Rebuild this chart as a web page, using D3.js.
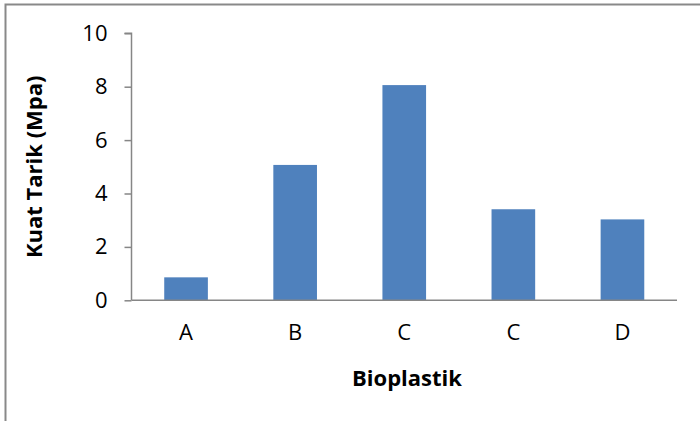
<!DOCTYPE html>
<html><head><meta charset="utf-8">
<script src="https://cdn.jsdelivr.net/npm/d3@7/dist/d3.min.js"></script>
<style>body{margin:0;background:#fff}svg{display:block}</style>
</head><body>
<script>
const categories = ["A", "B", "C", "C", "D"];
const values = [0.86, 5.07, 8.06, 3.41, 3.03];
const yTicks = [0, 2, 4, 6, 8, 10];
const xTitle = "Bioplastik";
const yTitle = "Kuat Tarik (Mpa)";

(function () {
const W = 700, H = 421;
const font = "'Open Sans', 'Noto Sans', sans-serif";
const svg = d3.select("body").append("svg").attr("width", W).attr("height", H);

// outer border (top and left visible)
svg.append("path").attr("d", "M5.5,440 L5.5,4.5 L720,4.5")
  .attr("fill", "none").attr("stroke", "#898989").attr("stroke-width", 2);

const pL = 131.5, pR = 677, pT = 33.3, pB = 300.3;
const x = d3.scaleBand().domain(d3.range(categories.length)).range([pL, pR]).paddingInner(0.6).paddingOuter(0.3);
const y = d3.scaleLinear().domain([0, 10]).range([pB, pT]);

svg.selectAll("rect.bar").data(values).join("rect").attr("class", "bar")
  .attr("x", (d, i) => x(i)).attr("width", x.bandwidth())
  .attr("y", d => y(d)).attr("height", d => y(0) - y(d))
  .attr("fill", "#4F81BD");

const yAxis = d3.axisLeft(y).tickValues(yTicks).tickSize(7).tickPadding(17).tickFormat(d3.format("d"));
const gy = svg.append("g").attr("transform", `translate(${pL},0)`).call(yAxis);
gy.select(".domain").attr("stroke", "#868686").attr("stroke-width", 1.5).attr("d", `M-7,${pT}H0V${pB}`);
gy.selectAll(".tick line").attr("stroke", "#868686").attr("stroke-width", 1.5);
gy.selectAll(".tick text").attr("font-family", font).attr("font-size", 22).attr("fill", "#000");

const xBand = d3.scaleBand().domain(d3.range(categories.length)).range([pL, pR]);
const xAxis = d3.axisBottom(xBand).tickSize(0).tickPadding(24).tickFormat(i => categories[i]);
const gx = svg.append("g").attr("transform", `translate(0,${pB})`).call(xAxis);
gx.select(".domain").attr("stroke", "#868686").attr("stroke-width", 1.5).attr("d", `M${pL},0H${pR}`);
gx.selectAll(".tick text").attr("font-family", font).attr("font-size", 22).attr("fill", "#000");

svg.append("text").attr("x", 407).attr("y", 386).attr("text-anchor", "middle")
  .attr("font-family", font).attr("font-size", 22).attr("font-weight", "bold").text(xTitle);

svg.append("text").attr("transform", `translate(42,${(pT + pB) / 2}) rotate(-90)`)
  .attr("text-anchor", "middle").attr("font-family", font).attr("font-size", 22)
  .attr("font-weight", "bold").text(yTitle);
})();
</script>
</body></html>
